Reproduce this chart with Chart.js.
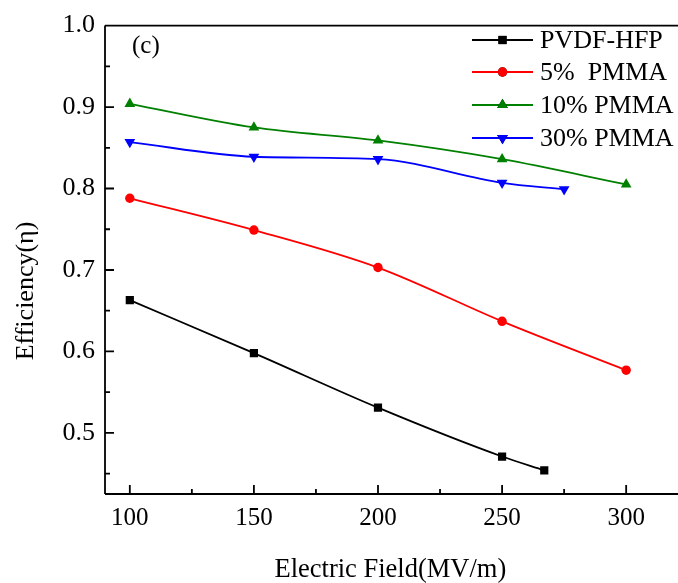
<!DOCTYPE html>
<html><head><meta charset="utf-8">
<script src="https://cdn.jsdelivr.net/npm/chart.js@4.4.1/dist/chart.umd.min.js"></script>
<style>html,body{margin:0;padding:0;overflow:hidden;background:#fff;width:678px;height:583px}canvas{display:block}</style>
</head><body>
<canvas id="c" width="682" height="583"></canvas>
<script>
const seriesNames = ['PVDF-HFP', '5%  PMMA', '10% PMMA', '30% PMMA'];
const xPVDF = [100, 150, 200, 250, 267];
const yPVDF = [0.663, 0.598, 0.531, 0.471, 0.454];
const x5 = [100, 150, 200, 250, 300];
const y5 = [0.788, 0.749, 0.703, 0.637, 0.577];
const x10 = [100, 150, 200, 250, 300];
const y10 = [0.904, 0.875, 0.859, 0.836, 0.805];
const x30 = [100, 150, 200, 250, 275];
const y30 = [0.857, 0.839, 0.836, 0.807, 0.799];
const xTicks = [100, 150, 200, 250, 300];
const xMinor = [125, 175, 225, 275];
const yTicks = [0.5, 0.6, 0.7, 0.8, 0.9, 1.0];
const yMinor = [0.45, 0.55, 0.65, 0.75, 0.85, 0.95];
const xTitle = 'Electric Field(MV/m)';
const yTitle = 'Efficiency(η)';

const colors = ['#000000', '#ff0000', '#008000', '#0000ff'];
const styles = ['rect', 'circle', 'triangle', 'triangle'];
const rots = [0, 0, 0, 180];
const radii = [5.8, 4.7, 6.2, 6.2];
const FONT = "'Liberation Serif', 'Times New Roman', serif";

function pts(xs, ys) { return xs.map((x, i) => ({x: x, y: ys[i]})); }
const allData = [pts(xPVDF, yPVDF), pts(x5, y5), pts(x10, y10), pts(x30, y30)];

const datasets = allData.map((d, i) => ({
  label: seriesNames[i], data: d, borderColor: colors[i], backgroundColor: colors[i],
  borderWidth: 1.8, pointStyle: styles[i], pointRotation: rots[i], pointRadius: radii[i],
  pointBorderWidth: 0, tension: 0.35, cubicInterpolationMode: 'monotone', fill: false
}));

const framePlugin = {
  id: 'frame',
  afterDraw(chart) {
    const ctx = chart.ctx, a = chart.chartArea;
    const xs = chart.scales.x, ys = chart.scales.y;
    ctx.save();
    ctx.strokeStyle = '#000'; ctx.lineWidth = 1.8;
    ctx.beginPath();
    ctx.moveTo(a.left, a.top); ctx.lineTo(a.right + 5, a.top);
    ctx.moveTo(a.left, a.top); ctx.lineTo(a.left, a.bottom);
    ctx.moveTo(a.left, a.bottom); ctx.lineTo(a.right + 5, a.bottom);
    xTicks.forEach(v => { const p = xs.getPixelForValue(v); ctx.moveTo(p, a.bottom); ctx.lineTo(p, a.bottom - 9); });
    xMinor.forEach(v => { const p = xs.getPixelForValue(v); ctx.moveTo(p, a.bottom); ctx.lineTo(p, a.bottom - 5); });
    yTicks.forEach(v => { const p = ys.getPixelForValue(v); ctx.moveTo(a.left, p); ctx.lineTo(a.left + 9, p); });
    yMinor.forEach(v => { const p = ys.getPixelForValue(v); ctx.moveTo(a.left, p); ctx.lineTo(a.left + 5, p); });
    ctx.stroke();
    ctx.fillStyle = '#000';
    ctx.textBaseline = 'middle';
    // y title
    ctx.save();
    ctx.font = '26px ' + FONT;
    ctx.textAlign = 'center';
    ctx.translate(26, 291);
    ctx.rotate(-Math.PI / 2);
    ctx.fillText(yTitle, 0, 0);
    ctx.restore();
    // panel label
    ctx.font = '25px ' + FONT;
    ctx.textAlign = 'left';
    ctx.fillText('(c)', 132, 46);
    // legend
    const lx0 = 472, lx1 = 533, tx = 540;
    const rowsY = [40, 72, 105, 138];
    ctx.font = '26px ' + FONT;
    seriesNames.forEach((n, i) => {
      const y = rowsY[i];
      ctx.strokeStyle = colors[i]; ctx.lineWidth = 1.8;
      ctx.beginPath(); ctx.moveTo(lx0, y); ctx.lineTo(lx1, y); ctx.stroke();
      Chart.helpers.drawPoint(ctx, {pointStyle: styles[i], rotation: rots[i], radius: radii[i], borderWidth: 0}, (lx0 + lx1) / 2, y);
      ctx.fillStyle = colors[i];
      ctx.fill();
      ctx.fillStyle = '#000';
      ctx.fillText(n, tx, y + 1);
    });
    ctx.restore();
  }
};

new Chart(document.getElementById('c'), {
  type: 'line',
  data: { datasets: datasets },
  options: {
    responsive: false, devicePixelRatio: 1, animation: false,
    layout: { padding: { top: 25, right: 0, left: 0, bottom: 0 } },
    plugins: { legend: { display: false }, tooltip: { enabled: false } },
    scales: {
      x: {
        type: 'linear', min: 90, max: 320,
        grid: { display: false, drawTicks: false }, border: { display: false },
        afterBuildTicks: s => { s.ticks = xTicks.map(v => ({value: v})); },
        afterFit: s => { s.height = 89; },
        ticks: { color: '#000', font: { family: FONT, size: 25 }, padding: 9, maxRotation: 0, callback: v => String(v) },
        title: { display: true, text: xTitle, color: '#000', font: { family: FONT, size: 26.5, lineHeight: 1 }, padding: { top: 0, bottom: 0 } }
      },
      y: {
        type: 'linear', min: 0.425, max: 1.0,
        grid: { display: false, drawTicks: false }, border: { display: false },
        afterBuildTicks: s => { s.ticks = yTicks.map(v => ({value: v})); },
        afterFit: s => { s.width = 105; },
        ticks: { color: '#000', font: { family: FONT, size: 26 }, padding: 10, callback: v => v.toFixed(1) },
        title: { display: false }
      }
    }
  },
  plugins: [framePlugin]
});
</script>
</body></html>
